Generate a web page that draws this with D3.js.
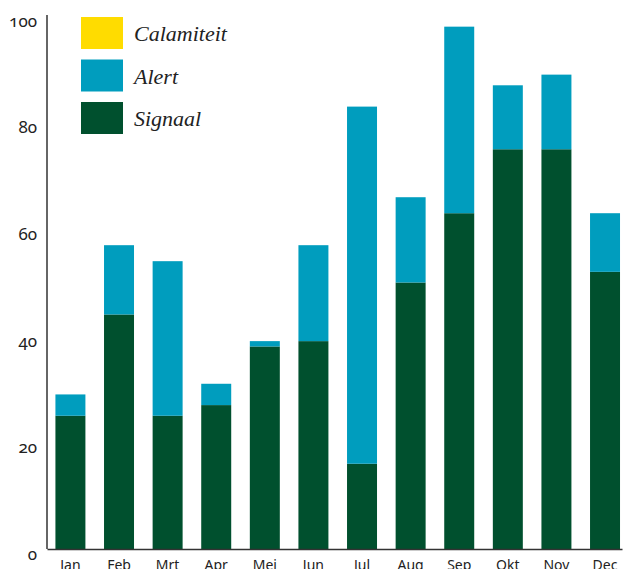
<!DOCTYPE html>
<html>
<head>
<meta charset="utf-8">
<script src="https://cdn.jsdelivr.net/npm/d3@7"></script>
<style>
  html, body { margin: 0; padding: 0; background: #fff; }
  svg { display: block; }
  .tick-label { font-family: "Noto Sans", sans-serif; font-variant-numeric: oldstyle-nums; fill: #222; }
  .legend-label { font-family: "Liberation Serif", serif; font-style: italic; fill: #222; }
</style>
</head>
<body>
<svg id="chart" width="630" height="569"></svg>
<script>
// Monthly counts per warning level
const months = ["Jan", "Feb", "Mrt", "Apr", "Mei", "Jun", "Jul", "Aug", "Sep", "Okt", "Nov", "Dec"];
const signaal = [25, 44, 25, 27, 38, 39, 16, 50, 63, 75, 75, 52];
const alert = [4, 13, 29, 4, 1, 18, 67, 16, 35, 12, 14, 11];
const calamiteit = [0, 0, 0, 0, 0, 0, 0, 0, 0, 0, 0, 0];
const yTicks = [0, 20, 40, 60, 80, 100];

const seriesKeys = ["Signaal", "Alert", "Calamiteit"];
const colors = { Calamiteit: "#FFDC00", Alert: "#009DBE", Signaal: "#00502E" };
const legendOrder = ["Calamiteit", "Alert", "Signaal"];

const rows = months.map((m, i) => ({
  month: m, Signaal: signaal[i], Alert: alert[i], Calamiteit: calamiteit[i]
}));
const stacked = d3.stack().keys(seriesKeys)(rows);

const svg = d3.select("#chart");
const plotLeft = 47, plotRight = 622, plotTop = 16, plotBottom = 549;

const x = d3.scaleBand()
  .domain(months)
  .range([plotLeft, plotRight])
  .paddingInner(0.383)
  .paddingOuter(0.107)
  .align(0.81);

const y = d3.scaleLinear().domain([0, 100]).range([plotBottom, plotTop]);

// Stacked bars
svg.append("g").selectAll("g")
  .data(stacked)
  .join("g")
  .attr("fill", d => colors[d.key])
  .selectAll("rect")
  .data(d => d)
  .join("rect")
  .attr("x", d => x(d.data.month))
  .attr("width", x.bandwidth())
  .attr("y", d => y(d[1]))
  .attr("height", d => y(d[0]) - y(d[1]));

// Y axis: plain line with labels, no tick marks
const yAxis = svg.append("g")
  .attr("transform", `translate(${plotLeft},0)`)
  .call(d3.axisLeft(y).tickValues(yTicks).tickSize(0).tickPadding(10).tickSizeOuter(0));
yAxis.select(".domain").attr("stroke", "#333").attr("stroke-width", 1.5)
  .attr("d", `M0,${y(100) - 1}V${plotBottom}`);
yAxis.selectAll(".tick text")
  .attr("class", "tick-label")
  .attr("font-size", 17)
  .attr("dy", "0.6em")
  .attr("x", -10);

// X axis: baseline with month names
const xAxis = svg.append("g")
  .attr("transform", `translate(0,${plotBottom})`)
  .call(d3.axisBottom(x).tickSize(0).tickSizeOuter(0).tickPadding(0));
xAxis.select(".domain").attr("stroke", "#333").attr("stroke-width", 1.5);
xAxis.selectAll(".tick text")
  .attr("class", "tick-label")
  .attr("font-size", 14)
  .attr("dy", 0)
  .attr("y", 21);

// Legend
const legend = svg.append("g").attr("transform", "translate(81,17)");
const item = legend.selectAll("g")
  .data(legendOrder)
  .join("g")
  .attr("transform", (d, i) => `translate(0,${i * 42.5})`);
item.append("rect")
  .attr("width", 42)
  .attr("height", 32)
  .attr("fill", d => colors[d]);
item.append("text")
  .attr("class", "legend-label")
  .attr("x", 53)
  .attr("y", 24)
  .attr("font-size", 22)
  .text(d => d);
</script>
</body>
</html>
